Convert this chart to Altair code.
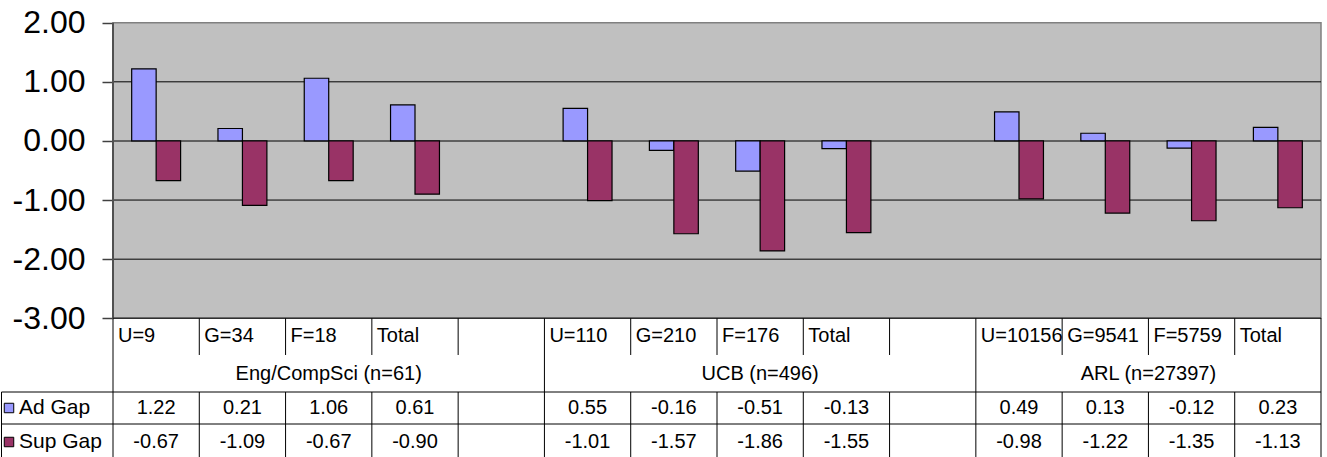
import altair as alt
import pandas as pd

# ---- data ----
categories = ["U=9", "G=34", "F=18", "Total", "",
              "U=110", "G=210", "F=176", "Total", "",
              "U=10156", "G=9541", "F=5759", "Total"]
ad_gap = [1.22, 0.21, 1.06, 0.61, None, 0.55, -0.16, -0.51, -0.13, None, 0.49, 0.13, -0.12, 0.23]
sup_gap = [-0.67, -1.09, -0.67, -0.90, None, -1.01, -1.57, -1.86, -1.55, None, -0.98, -1.22, -1.35, -1.13]
groups = ["Eng/CompSci (n=61)", "UCB (n=496)", "ARL (n=27397)"]
group_start = [0, 5, 10]
group_end = [5, 10, 14]
series = ["Ad Gap", "Sup Gap"]
colors = ["#9999FF", "#993366"]
y_ticks = [-3, -2, -1, 0, 1, 2]

# ---- layout (column units on x, value units on y) ----
W, H = 1327, 457
NCOL = len(categories)
PLOT_L, PLOT_R = 113, 1321
CW = (PLOT_R - PLOT_L) / NCOL
XMIN = -PLOT_L / CW
XMAX = NCOL + (W - PLOT_R) / CW
Y_TOP_PX, Y_BOT_PX = 22.7, 318.3
UNIT = (Y_BOT_PX - Y_TOP_PX) / 5.0
YMAX = 2 + Y_TOP_PX / UNIT
YMIN = -3 - (H - Y_BOT_PX) / UNIT


def ypx(px):
    return -3 - (px - Y_BOT_PX) / UNIT


ROW_CAT_BOT = ypx(355)
ROW_GRP_BOT = ypx(392)
ROW_AD_BOT = ypx(424)
ROW_BOTTOM = YMIN
CAT_Y = ypx(336)
GRP_Y = ypx(374)
AD_Y = ypx(408)
SUP_Y = ypx(442)
GAP = 0.2165
FONT = "Liberation Sans"
TFS = 20

xs = alt.Scale(domain=[XMIN, XMAX], nice=False, zero=False)
ys = alt.Scale(domain=[YMIN, YMAX], nice=False, zero=False)
yax = alt.Axis(
    values=y_ticks, offset=-PLOT_L, domain=False, grid=False,
    tickSize=11, tickColor="#404040", tickWidth=1.5,
    labelFontSize=32, labelFont=FONT, labelColor="black", labelPadding=17,
    labelExpr="replace(format(datum.value, '.2f'), '\u2212', '-')", title=None)


def X(f):
    return alt.X(f, scale=xs, axis=None)


def Y(f):
    return alt.Y(f, scale=ys, axis=yax)


# bars
rows = []
for i, c in enumerate(categories):
    for s, vals in zip(series, [ad_gap, sup_gap]):
        v = vals[i]
        if v is None:
            continue
        x0 = i + GAP if s == "Ad Gap" else i + 0.5
        rows.append({"x0": x0, "x1": x0 + (0.5 - GAP), "v": v, "zero": 0.0, "series": s})
bars_df = pd.DataFrame(rows)

bg = alt.Chart(pd.DataFrame({"x0": [0], "x1": [NCOL], "y0": [-3], "y1": [2]})).mark_rect(
    fill="#C0C0C0", stroke="#808080", strokeWidth=1.5
).encode(x=X("x0:Q"), x2="x1:Q", y=Y("y0:Q"), y2="y1:Q")

grid_df = pd.DataFrame({"y": [-2, -1, 1], "x0": 0, "x1": NCOL})
grid = alt.Chart(grid_df).mark_rule(color="black", strokeWidth=1).encode(
    x=X("x0:Q"), x2="x1:Q", y=Y("y:Q"))
zero_line = alt.Chart(pd.DataFrame({"y": [0], "x0": [0], "x1": [NCOL]})).mark_rule(
    color="#606060", strokeWidth=2).encode(x=X("x0:Q"), x2="x1:Q", y=Y("y:Q"))
axis_line = alt.Chart(pd.DataFrame({"x": [0], "y0": [-3], "y1": [2]})).mark_rule(
    color="#505050", strokeWidth=2).encode(x=X("x:Q"), y=Y("y0:Q"), y2="y1:Q")

bars = alt.Chart(bars_df).mark_bar(stroke="black", strokeWidth=1.2).encode(
    x=X("x0:Q"), x2="x1:Q", y=Y("v:Q"), y2="zero:Q",
    color=alt.Color("series:N", scale=alt.Scale(domain=series, range=colors), legend=None),
)

# table lines
LEFT_EDGE = XMIN + 1.5 / CW
v_rows = []
for b in range(NCOL + 1):
    if b in (0, 5, 10, NCOL):
        v_rows.append({"x": b, "y0": -3, "y1": ROW_BOTTOM})
    else:
        v_rows.append({"x": b, "y0": -3, "y1": ROW_CAT_BOT})
        v_rows.append({"x": b, "y0": ROW_GRP_BOT, "y1": ROW_BOTTOM})
v_rows.append({"x": LEFT_EDGE, "y0": ROW_GRP_BOT, "y1": ROW_BOTTOM})
vlines = alt.Chart(pd.DataFrame(v_rows)).mark_rule(color="black", strokeWidth=1).encode(
    x=X("x:Q"), y=Y("y0:Q"), y2="y1:Q")
h_df = pd.DataFrame({"y": [ROW_GRP_BOT, ROW_AD_BOT], "x0": [LEFT_EDGE] * 2, "x1": [NCOL] * 2})
hlines = alt.Chart(h_df).mark_rule(color="black", strokeWidth=1).encode(
    x=X("x0:Q"), x2="x1:Q", y=Y("y:Q"))
bottom_line = alt.Chart(pd.DataFrame({"y": [-3], "x0": [0], "x1": [NCOL]})).mark_rule(
    color="#303030", strokeWidth=1.5).encode(x=X("x0:Q"), x2="x1:Q", y=Y("y:Q"))

# table text
cat_df = pd.DataFrame({"x": list(range(NCOL)), "t": categories, "y": CAT_Y})
cat_text = alt.Chart(cat_df).mark_text(align="left", baseline="middle", dx=5,
                                        fontSize=TFS, font=FONT, color="black").encode(
    x=X("x:Q"), y=Y("y:Q"), text="t:N")
grp_df = pd.DataFrame({"x": [(a + b) / 2 for a, b in zip(group_start, group_end)],
                       "t": groups, "y": GRP_Y})
grp_text = alt.Chart(grp_df).mark_text(align="center", baseline="middle",
                                        fontSize=TFS, font=FONT, color="black").encode(
    x=X("x:Q"), y=Y("y:Q"), text="t:N")
val_rows = []
for i in range(NCOL):
    for vals, yy in [(ad_gap, AD_Y), (sup_gap, SUP_Y)]:
        if vals[i] is not None:
            val_rows.append({"x": i + 0.5, "y": yy, "t": f"{vals[i]:.2f}"})
val_text = alt.Chart(pd.DataFrame(val_rows)).mark_text(align="center", baseline="middle",
                                                        fontSize=TFS, font=FONT, color="black").encode(
    x=X("x:Q"), y=Y("y:Q"), text="t:N")

leg_df = pd.DataFrame({"x": [XMIN, XMIN], "y": [AD_Y, SUP_Y], "series": series})
leg_sw = alt.Chart(leg_df).mark_point(shape="square", filled=True, size=90, stroke="black",
                                      strokeWidth=1, opacity=1, xOffset=9).encode(
    x=X("x:Q"), y=Y("y:Q"),
    fill=alt.Fill("series:N", scale=alt.Scale(domain=series, range=colors), legend=None))
leg_txt = alt.Chart(leg_df).mark_text(align="left", baseline="middle", dx=19,
                                      fontSize=TFS + 1, font=FONT, color="black").encode(
    x=X("x:Q"), y=Y("y:Q"), text="series:N")

chart = alt.layer(
    bg, grid, zero_line, bars, axis_line, bottom_line, vlines, hlines,
    cat_text, grp_text, val_text, leg_sw, leg_txt
).properties(
    width=W, height=H, autosize=alt.AutoSizeParams(type="none"), padding=0,
    background="white"
).configure_view(stroke=None)

chart.save("out.html", embed_options={"renderer": "svg", "actions": False})
